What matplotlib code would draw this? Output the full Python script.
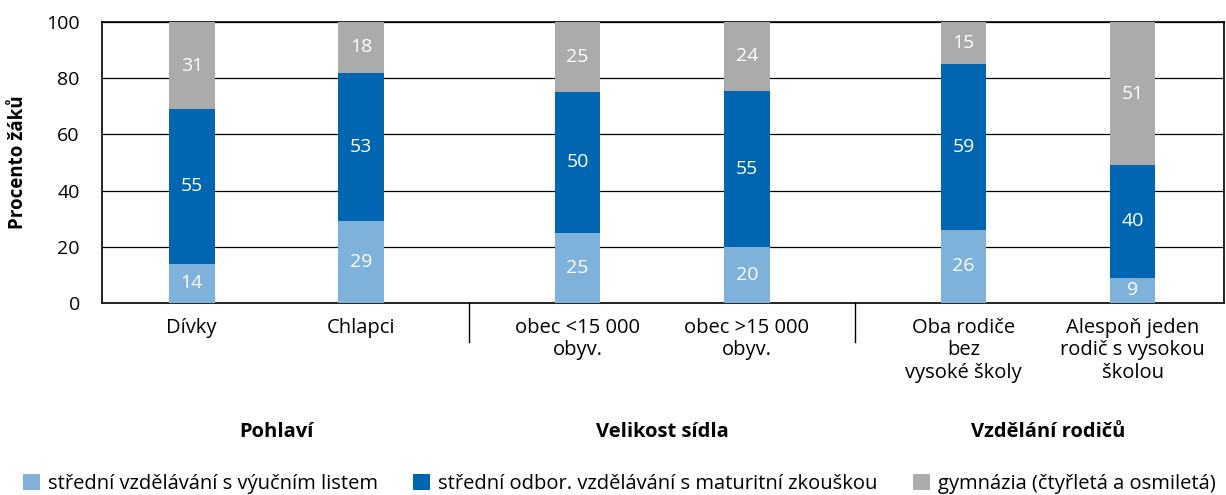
import numpy as np
import matplotlib
matplotlib.use('Agg')
import matplotlib.pyplot as plt
from matplotlib.patches import Patch
import matplotlib.transforms as mtransforms

plt.rcParams['font.family'] = ['Open Sans', 'DejaVu Sans']

# data
kategorie = ['Dívky', 'Chlapci',
             'obec <15 000\nobyv.', 'obec >15 000\nobyv.',
             'Oba rodiče\nbez\nvysoké školy', 'Alespoň jeden\nrodič s vysokou\nškolou']
skupiny = ['Pohlaví', 'Velikost sídla', 'Vzdělání rodičů']
vyucni = [14, 29, 25, 20, 26, 9]
maturita = [55, 53, 50, 55.5, 59, 40]
gymnazia = [31, 18, 25, 24.5, 15, 51]
# popisky tak, jak jsou v grafu (zaokrouhlené)
vyucni_txt = ['14', '29', '25', '20', '26', '9']
maturita_txt = ['55', '53', '50', '55', '59', '40']
gymnazia_txt = ['31', '18', '25', '24', '15', '51']
serie_nazvy = ['střední vzdělávání s výučním listem',
               'střední odbor. vzdělávání s maturitní zkouškou',
               'gymnázia (čtyřletá a osmiletá)']
barvy = ['#7FB2DA', '#0066B2', '#ABABAB']

# pozice: 2 sloupce ve skupině, mezera mezi skupinami
krok_skupiny = 2.28
x = np.array([g * krok_skupiny + i for g in range(3) for i in range(2)])

fig = plt.figure(figsize=(12.26, 4.95), dpi=100)
ax = fig.add_axes([0.0832, 0.388, 0.9152, 0.5676])

dolni = np.zeros(6)
for hodnoty, popisky, barva in zip([vyucni, maturita, gymnazia],
                                   [vyucni_txt, maturita_txt, gymnazia_txt], barvy):
    hodnoty = np.array(hodnoty, dtype=float)
    ax.bar(x, hodnoty, bottom=dolni, width=0.27, color=barva, zorder=3)
    for xi, b, h, t in zip(x, dolni, hodnoty, popisky):
        ax.text(xi, b + h / 2, t, ha='center', va='center',
                color='white', fontsize=14, zorder=4)
    dolni = dolni + hodnoty

ax.set_xlim(x[0] - 0.53, x[-1] + 0.54)
ax.set_ylim(0, 100)
ax.set_yticks(range(0, 101, 20))
ax.tick_params(axis='y', length=0, labelsize=14, pad=16)
ax.yaxis.grid(True, color='black', linewidth=0.9, zorder=0)
for s in ax.spines.values():
    s.set_color('black')
    s.set_linewidth(1.2)
ax.set_ylabel('Procento žáků', fontsize=13.5, fontweight='bold')
ax.yaxis.set_label_coords(-0.066, 0.5)

ax.set_xticks(x)
ax.set_xticklabels(kategorie, fontsize=14.5, linespacing=1.15, va='top')
ax.tick_params(axis='x', length=0, pad=11)

# oddělovače skupin
trans = mtransforms.blended_transform_factory(ax.transData, ax.transAxes)
for g in range(2):
    xs = (x[2 * g + 1] + x[2 * g + 2]) / 2
    ax.plot([xs, xs], [0, -0.14], color='black', linewidth=1,
            transform=trans, clip_on=False)

for g, nazev in enumerate(skupiny):
    xc = (x[2 * g] + x[2 * g + 1]) / 2
    ax.text(xc, -0.46, nazev, transform=trans, ha='center', va='center',
            fontsize=14.5, fontweight='bold')

handles = [Patch(facecolor=b, edgecolor='none') for b in barvy]
fig.legend(handles, serie_nazvy, loc='lower center', ncol=3,
           bbox_to_anchor=(0.505, -0.035), frameon=False, fontsize=14.5,
           handlelength=0.85, handleheight=0.85, handletextpad=0.4,
           columnspacing=1.75)

fig.savefig('out.png', dpi=100)
